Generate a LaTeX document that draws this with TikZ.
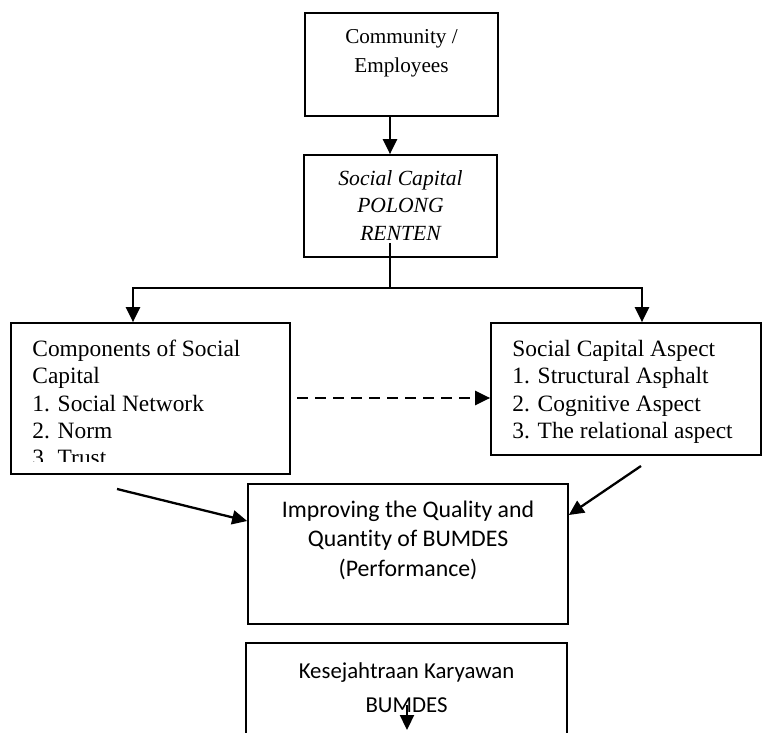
\documentclass[tikz,border=0pt]{standalone}
\usepackage{fontspec}
\setmainfont{Liberation Serif}
\newfontfamily\calibri[Ligatures=NoCommon, RawFeature={-liga;-clig;-dlig}]{Carlito}
\usepackage{tikz}
\usetikzlibrary{arrows.meta, positioning, fit}

\tikzset{
    box/.style={draw, line width=0.85pt, inner sep=0pt},
    link/.style={line width=1.15pt},
    arr/.style={-{Triangle[length=7.5pt, width=7pt]}},
    boxtext/.style={inner sep=0pt, anchor=north, align=center},
    listtext/.style={inner sep=0pt, anchor=north west, align=left,
        font=\fontsize{11.7}{13.65}\selectfont}
}

\begin{document}
\begin{tikzpicture}[x=0.5pt, y=-0.5pt]
        \useasboundingbox (0,0) rectangle (762,733);
        \clip (0,0) rectangle (762,733);

        % Boxes
        \node[box, fit={(305,13) (498,116)}] (comm) {};
        \node[box, fit={(304,155) (497,257)}] (soc) {};
        \node[box, fit={(11,323) (290,474)}] (comp) {};
        \node[box, fit={(491,323) (761,455)}] (aspect) {};
        \node[box, fit={(248,484) (568,624)}] (perf) {};
        \node[box, fit={(246,643) (567,780)}] (welfare) {};

        % Texts
        \node[boxtext, font=\fontsize{10.6}{14.5}\selectfont] (commtext)
            at (401.5,22.7) {\strut Community /\\Employees};
        \node[boxtext, font=\fontsize{10.8}{13.75}\selectfont\itshape] (soctext)
            at (400.5,165.75) {\strut Social Capital\\POLONG\\RENTEN};
        \begin{scope}
            \clip (11,323) rectangle (290,461.5);
            \node[listtext] (comptext) at (32,336.9)
                {\strut Components of Social\\Capital\\1. Social Network\\2. Norm\\3. Trust};
        \end{scope}
        \node[listtext] (aspecttext) at (512,336.9)
            {\strut Social Capital Aspect\\1. Structural Asphalt\\2. Cognitive Aspect\\3. The relational aspect};
        \node[boxtext, font=\calibri\fontsize{11.9}{14.75}\selectfont] (perftext)
            at (408,496.35) {\strut Improving the Quality and\\Quantity of BUMDES\\(Performance)};
        \node[boxtext, font=\calibri\fontsize{11.4}{17}\selectfont] (welfaretext)
            at (406.5,654.2) {\strut Kesejahtraan Karyawan\\BUMDES};

        % Connectors
        \coordinate (socout) at (390,243);
        \coordinate (split) at (390,288);
        \coordinate (dashstart) at (297,398);
        \coordinate (compout) at (117,489);
        \coordinate (aspectout) at (641,466);
        \coordinate (welfarein) at (407,705);
        \coordinate (welfaretip) at (407,730);

        \draw[link, arr] (390,0 |- comm.south) -- (390,0 |- soc.north);
        \draw[link] (socout) -- (split);
        \draw[link, arr] (split) -| (133,0 |- comp.north);
        \draw[link, arr] (split) -| (642,0 |- aspect.north);
        \draw[link, arr, dash pattern=on 5.5pt off 3.5pt] (dashstart) -- (dashstart -| aspect.west);
        \draw[link, arr] (compout) -- (perf.west |- 0,521);
        \draw[link, arr] (aspectout) -- (perf.east |- 0,515);
        \draw[link, arr] (welfarein) -- (welfaretip);
    \end{tikzpicture}
\end{document}
